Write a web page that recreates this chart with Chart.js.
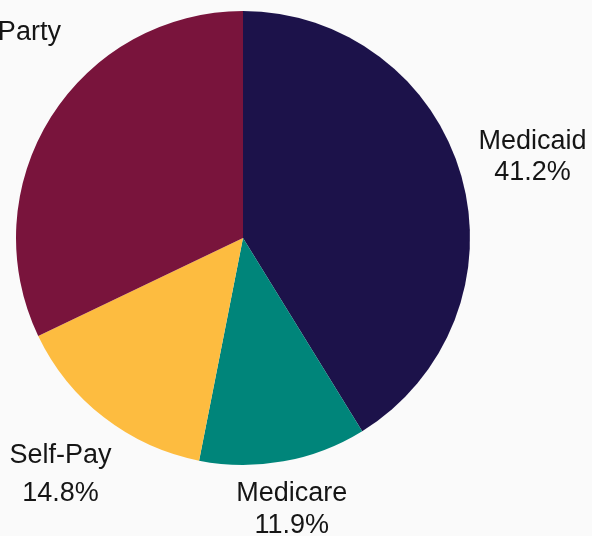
<!DOCTYPE html>
<html>
<head>
<meta charset="utf-8">
<script src="https://cdn.jsdelivr.net/npm/chart.js@4"></script>
<style>
  html, body { margin: 0; padding: 0; background: #fafafa; overflow: hidden; }
  #wrap { width: 592px; height: 536px; }
</style>
</head>
<body>
<div id="wrap"><canvas id="pie" width="592" height="536"></canvas></div>
<script>
// =====================
// Data
// =====================
const payers = ["Medicaid", "Medicare", "Self-Pay", "Third Party"]
const shares = [41.2, 11.9, 14.8, 32.1]
const colors = ["#1c124a", "#00857a", "#fdbc40", "#79143c"]


// =====================
// Label placement (per slice)
// =====================
const labelOpts = [
  { k: 1.326, gap: 31, align: "center", dAngle: 0, pct: true },
  { k: 1.207, gap: 32, align: "center", dAngle: 0, pct: true },
  { k: 1.311, gap: 38, align: "center", dAngle: 0, pct: true },
  { k: 1.216, gap: 32, align: "right", dAngle: 16.5, pct: false }
]

const sliceLabels = {
  id: "sliceLabels",
  afterDraw(chart) {
    const ctx = chart.ctx
    const meta = chart.getDatasetMeta(0)
    ctx.save()
    ctx.font = "27px 'Liberation Sans', Arial, sans-serif"
    ctx.fillStyle = "#151515"
    ctx.textBaseline = "middle"

    meta.data.forEach((arc, i) => {
      const o = labelOpts[i]
      const p = arc.getProps(["x", "y", "startAngle", "endAngle", "outerRadius"], true)
      const mid = (p.startAngle + p.endAngle) / 2 + o.dAngle * Math.PI / 180
      const r = p.outerRadius * o.k
      const x = p.x + Math.cos(mid) * r
      const y = p.y + Math.sin(mid) * r + 1.5

      const lines = [payers[i]]
      if (o.pct) lines.push(shares[i].toFixed(1) + "%")

      ctx.textAlign = o.align
      lines.forEach((t, j) => {
        ctx.fillText(t, x, y + (j - (lines.length - 1) / 2) * o.gap)
      })
    })
    ctx.restore()
  }
}


// =====================
// Chart
// =====================
new Chart(document.getElementById("pie"), {
  type: "pie",
  data: {
    labels: payers,
    datasets: [{
      data: shares,
      backgroundColor: colors,
      borderWidth: 0
    }]
  },
  options: {
    responsive: false,
    animation: false,
    devicePixelRatio: 1,
    layout: {
      padding: { top: 11, bottom: 71, left: 16, right: 122 }
    },
    plugins: {
      legend: { display: false },
      tooltip: { enabled: false }
    }
  },
  plugins: [sliceLabels]
})
</script>
</body>
</html>
